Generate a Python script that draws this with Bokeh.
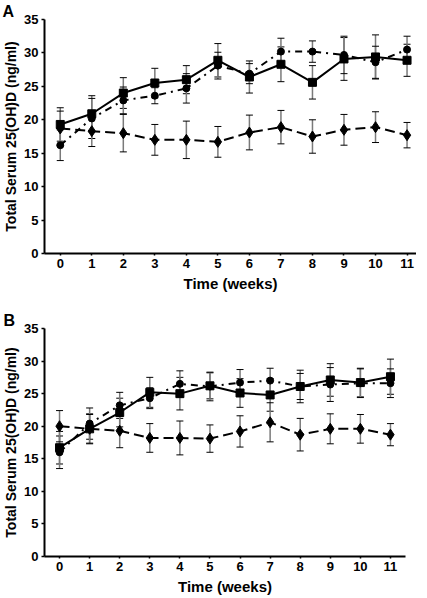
import numpy as np
from bokeh.plotting import figure
from bokeh.layouts import column
from bokeh.models import ColumnDataSource, Whisker, TeeHead, FixedTicker, Range1d
from bokeh.embed import file_html
from bokeh.resources import INLINE

weeks = [0, 1, 2, 3, 4, 5, 6, 7, 8, 9, 10, 11]
y_ticks = [0, 5, 10, 15, 20, 25, 30, 35]

# Panel A
a_square = [19.3, 20.9, 24.0, 25.5, 26.0, 28.9, 26.4, 28.3, 25.6, 29.1, 29.4, 28.9]
a_square_err = [2.5, 2.7, 2.3, 2.2, 2.1, 2.5, 2.4, 2.6, 2.5, 3.2, 3.3, 2.4]
a_circle = [16.2, 20.2, 22.9, 23.6, 24.7, 28.1, 26.9, 30.2, 30.2, 29.7, 28.6, 30.5]
a_circle_err = [2.3, 3.0, 2.0, 1.2, 2.2, 2.0, 1.5, 2.0, 1.6, 2.8, 2.4, 2.0]
a_diamond = [18.7, 18.3, 18.0, 17.0, 17.0, 16.7, 18.1, 18.9, 17.5, 18.5, 18.9, 17.7]
a_diamond_err = [2.6, 2.3, 2.8, 2.3, 2.8, 2.3, 2.6, 2.5, 2.5, 2.3, 2.3, 1.9]

# Panel B
b_square = [16.7, 19.6, 22.1, 25.2, 25.0, 26.2, 25.1, 24.8, 26.1, 27.1, 26.7, 27.6]
b_square_err = [2.5, 2.3, 2.2, 2.3, 2.5, 2.0, 2.2, 2.5, 2.5, 2.5, 2.2, 2.7]
b_circle = [16.0, 20.4, 23.2, 24.3, 26.5, 26.1, 26.7, 27.0, 26.1, 26.4, 26.6, 26.6]
b_circle_err = [2.5, 2.4, 2.0, 1.6, 2.0, 2.2, 2.0, 1.9, 2.0, 2.6, 2.2, 2.2]
b_diamond = [20.0, 19.6, 19.3, 18.2, 18.2, 18.1, 19.2, 20.6, 18.7, 19.6, 19.6, 18.7]
b_diamond_err = [2.4, 2.2, 2.6, 2.2, 2.6, 2.1, 2.4, 3.0, 2.5, 2.3, 2.2, 1.7]

FONT = "Liberation Sans"


def make_panel(letter, series, frame_w, frame_h, borders, x_end, title_offset):
    left, right, top, bottom = borders
    p = figure(frame_width=frame_w, frame_height=frame_h, title=letter,
               output_backend="svg", toolbar_location=None,
               x_range=Range1d(-0.5, x_end), y_range=Range1d(0, 35),
               min_border_left=left, min_border_top=top,
               min_border_right=right, min_border_bottom=bottom)
    p.outline_line_color = None
    p.xgrid.visible = False
    p.ygrid.visible = False

    p.title.text_font = FONT
    p.title.text_font_style = "bold"
    p.title.text_font_size = "16px"
    p.title.text_color = "black"
    p.title.align = "left"
    p.title.offset = title_offset
    p.title.standoff = 0
    p.title.text_line_height = 0.8

    for ax in (p.xaxis[0], p.yaxis[0]):
        ax.axis_line_width = 2
        ax.major_tick_line_width = 1.5
        ax.major_tick_in = 0
        ax.minor_tick_line_color = None
        ax.major_label_text_font = FONT
        ax.major_label_text_font_style = "bold"
        ax.major_label_text_font_size = "13px"
        ax.major_label_text_color = "black"
        ax.axis_label_text_font = FONT
        ax.axis_label_text_font_style = "bold"
        ax.axis_label_text_color = "black"
    p.xaxis.ticker = FixedTicker(ticks=weeks)
    p.yaxis.ticker = FixedTicker(ticks=y_ticks)
    p.xaxis.axis_label = "Time (weeks)"
    p.yaxis.axis_label = "Total Serum 25(OH)D (ng/ml)"
    p.xaxis.axis_label_text_font_size = "15px"
    p.yaxis.axis_label_text_font_size = "14px"
    p.xaxis.major_tick_out = 2
    p.yaxis.major_tick_out = 3
    p.xaxis.major_label_standoff = 3
    p.yaxis.major_label_standoff = 3
    p.xaxis.axis_label_standoff = 4
    p.yaxis.axis_label_standoff = 2

    styles = [
        ("square", 8, "solid"),
        ("circle", 7, "7 5 2 5"),
        ("diamond", 11, "10 5"),
    ]
    for (vals, errs), (marker, size, dash) in zip(series, styles):
        v = np.array(vals)
        e = np.array(errs)
        src = ColumnDataSource(dict(x=weeks, y=vals, upper=v + e, lower=v - e))
        w = Whisker(base="x", upper="upper", lower="lower", source=src,
                    line_color="#7a7a7a", line_width=1.5,
                    upper_head=TeeHead(size=7, line_color="black", line_width=1),
                    lower_head=TeeHead(size=7, line_color="black", line_width=1))
        p.add_layout(w)
        p.line("x", "y", source=src, line_color="black", line_width=2, line_dash=dash)
        p.scatter("x", "y", source=src, marker=marker, size=size,
                  fill_color="black", line_color="black")
    return p


pA = make_panel("A", [(a_square, a_square_err), (a_circle, a_circle_err),
                      (a_diamond, a_diamond_err)],
                frame_w=372, frame_h=234, borders=(42, 0, 19, 43), x_end=11.3,
                title_offset=-42)
pB = make_panel("B", [(b_square, b_square_err), (b_circle, b_circle_err),
                      (b_diamond, b_diamond_err)],
                frame_w=361, frame_h=228, borders=(41, 12, 32, 42), x_end=11.5,
                title_offset=-41)

layout = column(pA, pB, spacing=0)
open("out.html", "w").write(file_html(layout, INLINE))
